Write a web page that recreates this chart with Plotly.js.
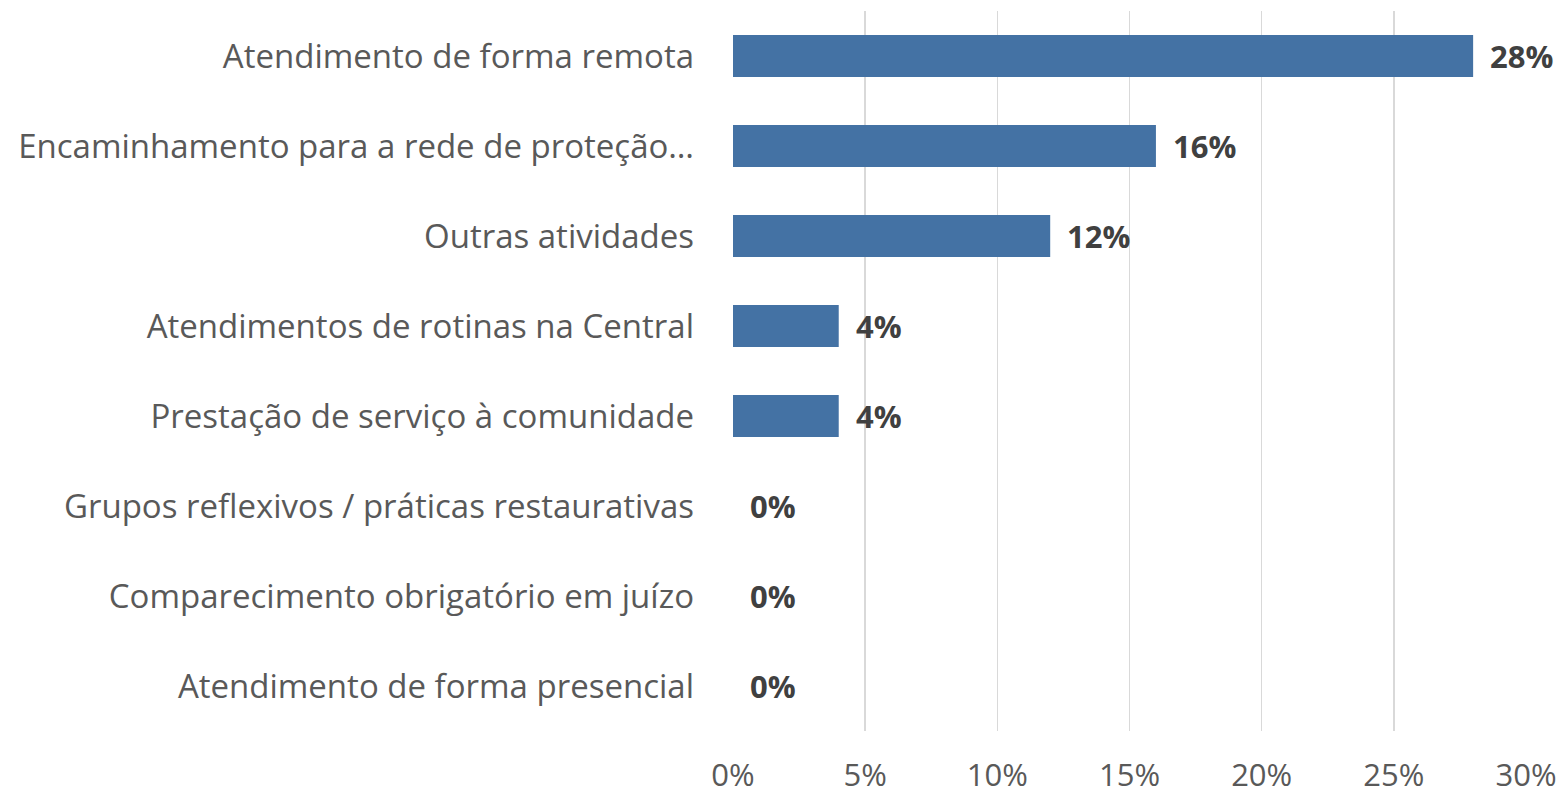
<!DOCTYPE html>
<html>
<head>
<meta charset="utf-8">
<script src="https://cdn.plot.ly/plotly-3.0.1.min.js"></script>
<style>html,body{margin:0;padding:0;background:#fff;}#chart{width:1565px;height:796px;}</style>
</head>
<body>
<div id="chart"></div>
<script>
const categories = [
  "Atendimento de forma remota",
  "Encaminhamento para a rede de proteção…",
  "Outras atividades",
  "Atendimentos de rotinas na Central",
  "Prestação de serviço à comunidade",
  "Grupos reflexivos / práticas restaurativas",
  "Comparecimento obrigatório em juízo",
  "Atendimento de forma presencial"
];
const values = [28, 16, 12, 4, 4, 0, 0, 0];
const tickVals = [0, 5, 10, 15, 20, 25, 30];
const tickLabels = ["0%", "5%", "10%", "15%", "20%", "25%", "30%"];

const FONT = "'Open Sans', 'Noto Sans', sans-serif";

const trace = {
  type: 'bar',
  orientation: 'h',
  x: values,
  y: categories,
  marker: {color: '#4472A4'},
  hoverinfo: 'none'
};

const annotations = categories.map((c, i) => ({
  x: values[i], y: c, xref: 'x', yref: 'y',
  text: '<b>' + values[i] + '%</b>',
  showarrow: false, xanchor: 'left', yanchor: 'middle', xshift: 15,
  font: {family: FONT, size: 31, color: '#404040'}
}));

const layout = {
  width: 1565, height: 796,
  margin: {l: 733, r: 39, t: 11, b: 65},
  paper_bgcolor: '#fff', plot_bgcolor: '#fff',
  showlegend: false,
  bargap: 0.533,
  font: {family: FONT, color: '#595959'},
  xaxis: {
    range: [0, 30], tickvals: tickVals, ticktext: tickLabels,
    showgrid: true, gridcolor: '#d9d9d9', gridwidth: 1.5,
    zeroline: false, showline: false, ticks: '',
    ticklabelstandoff: 23,
    tickfont: {family: FONT, size: 31, color: '#595959'}
  },
  yaxis: {
    type: 'category', categoryorder: 'array', categoryarray: categories,
    autorange: 'reversed',
    showgrid: false, zeroline: false, showline: false, ticks: '',
    ticklabelstandoff: 38,
    tickfont: {family: FONT, size: 33, color: '#595959'}
  },
  annotations: annotations
};

Plotly.newPlot('chart', [trace], layout, {displayModeBar: false, staticPlot: true});
</script>
</body>
</html>
